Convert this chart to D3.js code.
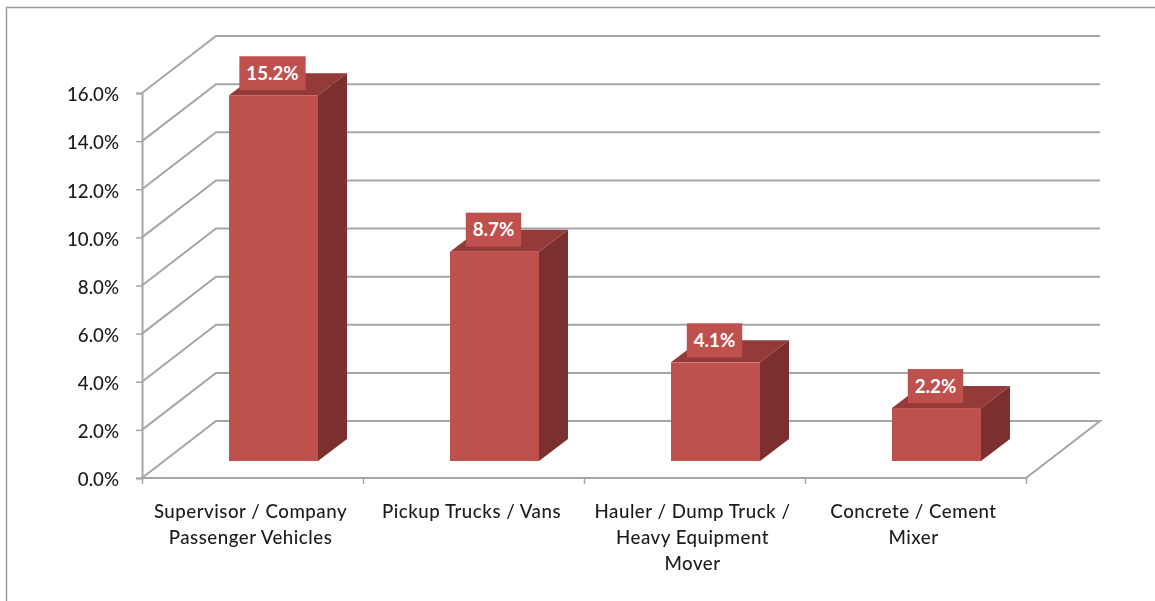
<!DOCTYPE html>
<html>
<head>
<meta charset="utf-8">
<script src="https://cdn.jsdelivr.net/npm/d3@7"></script>
<style>
  html, body { margin: 0; padding: 0; background: #fff; }
  /* the source is a slightly soft screenshot */
  svg { display: block; filter: blur(0.45px); }
  text { font-family: Lato, "Open Sans", sans-serif; }
</style>
</head>
<body>
<div id="chart"></div>
<script>
const categories = ['Supervisor / Company', 'Pickup Trucks / Vans', 'Hauler / Dump Truck /', 'Concrete / Cement']
const categoryLines = [
  ['Supervisor / Company', 'Passenger Vehicles'],
  ['Pickup Trucks / Vans'],
  ['Hauler / Dump Truck /', 'Heavy Equipment', 'Mover'],
  ['Concrete / Cement', 'Mixer']
]
const values = [15.2, 8.7, 4.1, 2.2]
const yTicks = [0, 2, 4, 6, 8, 10, 12, 14, 16]

const width = 1155
const height = 601
const gridColor = '#a6a6a6'
const textColor = '#1c1c1c'
const front = '#be504d'
const side = '#7b302f'
const top_ = '#943a38'
const fontSize = 18.7

// the floor runs back by this much, the bars sit inside it
const wallDx = 74
const wallDy = -57
const barDx = 29
const barDy = -22
const barShiftX = 21
const barShiftY = -17
const barWidth = 89

const x = d3.scaleBand().domain(categories).range([142, 1026]).padding(0)
const xEdge = d3.scaleLinear().domain([0, categories.length]).range([142, 1026])
const y = d3.scaleLinear().domain([0, 16]).range([478, 93])

const svg = d3.select('#chart').append('svg')
  .attr('width', width)
  .attr('height', height)

// outer chart frame, only top and left show in the crop
svg.append('path')
  .attr('d', 'M6.5,601V7.5H1155')
  .attr('fill', 'none')
  .attr('stroke', '#9c9c9c')
  .attr('stroke-width', 1.5)

const grid = svg.append('g')
  .attr('fill', 'none')
  .attr('stroke', gridColor)
  .attr('stroke-width', 2)

// side wall plus back wall for each tick
grid.selectAll('path')
  .data(yTicks)
  .enter().append('path')
  .attr('d', d => {
    const x0 = x.range()[0]
    const x1 = x.range()[1]
    const yy = y(d)
    if (d === 0) {
      return `M${x0},${yy}L${x0 + wallDx},${yy + wallDy}H${x1 + wallDx}L${x1},${yy}Z`
    }
    return `M${x0},${yy}L${x0 + wallDx},${yy + wallDy}H${x1 + wallDx}`
  })

const yAxis = d3.axisLeft(y)
  .tickValues(yTicks)
  .tickSize(6)
  .tickPadding(17)
  .tickFormat(d => d3.format('.1f')(d) + '%')

const gy = svg.append('g')
  .attr('transform', 'translate(142,0)')
  .call(yAxis)

gy.select('.domain').attr('stroke', gridColor).attr('stroke-width', 2)
gy.selectAll('line').attr('stroke', gridColor).attr('stroke-width', 1.5)
gy.selectAll('text')
  .attr('fill', textColor)
  .attr('font-size', fontSize)
  .attr('font-family', 'Lato')
  .attr('font-weight', 500)
  .attr('dy', '0.42em')

const xAxis = d3.axisBottom(xEdge)
  .tickValues(d3.range(categories.length + 1))
  .tickSize(6)
  .tickFormat('')

const gx = svg.append('g')
  .attr('transform', 'translate(0,478)')
  .call(xAxis)

gx.select('.domain').remove()
gx.selectAll('line').attr('stroke', gridColor).attr('stroke-width', 1.5)

const bars = svg.selectAll('g.bar')
  .data(values)
  .enter().append('g')
  .attr('class', 'bar')

const barLeft = (d, i) => x(categories[i]) + x.step() / 2 - barWidth / 2 + barShiftX
const barBase = y(0) + barShiftY
const barTop = d => y(d) + barShiftY

bars.append('path')
  .attr('fill', top_)
  .attr('d', (d, i) => {
    const l = barLeft(d, i)
    const t = barTop(d)
    return `M${l},${t}l${barDx},${barDy}h${barWidth}l${-barDx},${-barDy}Z`
  })

bars.append('path')
  .attr('fill', side)
  .attr('d', (d, i) => {
    const r = barLeft(d, i) + barWidth
    const t = barTop(d)
    return `M${r},${t}l${barDx},${barDy}V${barBase + barDy}L${r},${barBase}Z`
  })

bars.append('rect')
  .attr('fill', front)
  .attr('x', barLeft)
  .attr('y', barTop)
  .attr('width', barWidth)
  .attr('height', d => barBase - barTop(d))

// value labels sit on a box the same colour as the bar
const labels = svg.selectAll('g.value')
  .data(values)
  .enter().append('g')
  .attr('class', 'value')
  .attr('transform', (d, i) => `translate(${barLeft(d, i) + barWidth / 2 - 1},${barTop(d) - 22})`)

const labelRects = labels.append('rect').attr('fill', front)

labels.append('text')
  .attr('text-anchor', 'middle')
  .attr('dy', '0.35em')
  .attr('fill', '#fff')
  .attr('font-size', fontSize)
  .attr('font-weight', 700)
  .text(d => d3.format('.1f')(d) + '%')

labelRects.each(function () {
  const box = this.parentNode.querySelector('text').getBBox()
  d3.select(this)
    .attr('x', box.x - 7)
    .attr('y', -17)
    .attr('width', box.width + 14)
    .attr('height', 34)
})

// category names, wrapped by hand as in the original
const names = svg.selectAll('text.name')
  .data(categoryLines)
  .enter().append('text')
  .attr('class', 'name')
  .attr('text-anchor', 'middle')
  .attr('fill', textColor)
  .attr('font-size', fontSize)
  .attr('letter-spacing', 0.5)
  .attr('font-weight', 500)

names.selectAll('tspan')
  .data((d, i) => d.map(line => ({ line, i })))
  .enter().append('tspan')
  .attr('x', d => x(categories[d.i]) + x.step() / 2 - 2)
  .attr('y', (d, j) => 518 + j * 26)
  .text(d => d.line)
</script>
</body>
</html>
